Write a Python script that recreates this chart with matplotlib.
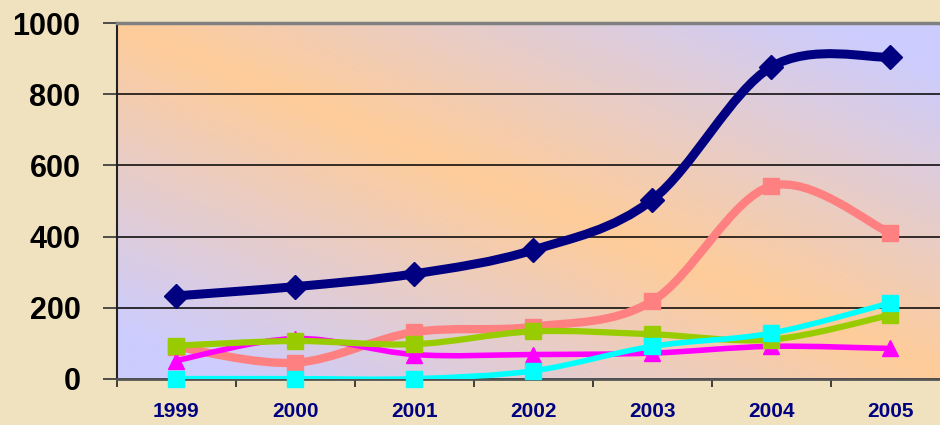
import matplotlib.pyplot as plt
import numpy as np
from matplotlib.path import Path
from matplotlib.patches import PathPatch

years = ['1999', '2000', '2001', '2002', '2003', '2004', '2005']
navy_vals = [233, 259, 295, 362, 503, 877, 905]
salmon_vals = [90, 45, 131, 146, 218, 542, 410]
magenta_vals = [51, 113, 68, 68, 72, 91, 85]
green_vals = [93, 106, 97, 133, 125, 110, 179]
cyan_vals = [0, 0, 0, 22, 91, 128, 213]
y_ticks = [0, 200, 400, 600, 800, 1000]


def smooth_path(x, y):
    # Excel-like smoothed line: cubic Bezier segments through the points
    x = np.asarray(x, float)
    y = np.asarray(y, float)
    n = len(x)
    verts = [(x[0], y[0])]
    codes = [Path.MOVETO]
    for i in range(n - 1):
        i0 = max(i - 1, 0)
        i3 = min(i + 2, n - 1)
        c1 = (x[i] + (x[i + 1] - x[i0]) / 6, y[i] + (y[i + 1] - y[i0]) / 6)
        c2 = (x[i + 1] - (x[i3] - x[i]) / 6, y[i + 1] - (y[i3] - y[i]) / 6)
        verts += [c1, c2, (x[i + 1], y[i + 1])]
        codes += [Path.CURVE4] * 3
    return Path(verts, codes)


def main():
    plt.rcParams['font.family'] = ['Liberation Sans', 'DejaVu Sans']
    fig = plt.figure(figsize=(9.4, 4.25), dpi=100, facecolor='#F1E2BF')
    ax = fig.add_axes([0.1241, 0.109, 0.886, 0.836])

    # diagonal gradient background: lavender corners, orange band
    xs = np.linspace(0, 1, 300)
    ys = np.linspace(0, 1, 150)
    gx, gy = np.meshgrid(xs, ys)
    t = np.clip(np.abs(gx + gy - 1.0) * 1.15, 0, 1)[..., None]
    orange = np.array([255, 204, 153]) / 255
    lavender = np.array([204, 204, 255]) / 255
    img = orange * (1 - t) + lavender * t
    ax.imshow(img, extent=[0, 1, 0, 1], origin='lower', transform=ax.transAxes,
              aspect='auto', zorder=0)

    xpos = np.arange(len(years))
    series = [
        (navy_vals, '#000080', 6.5, 'D', 12),
        (salmon_vals, '#FF8080', 6.0, 's', 11),
        (magenta_vals, '#FF00FF', 4.0, '^', 11),
        (green_vals, '#99CC00', 4.5, 's', 11),
        (cyan_vals, '#00FFFF', 4.0, 's', 11),
    ]
    for k, (vals, col, lw, mk, ms) in enumerate(series):
        patch = PathPatch(smooth_path(xpos, vals), facecolor='none', edgecolor=col,
                          lw=lw, capstyle='round', joinstyle='round', zorder=3 + k)
        ax.add_patch(patch)
        ax.plot(xpos, vals, linestyle='none', marker=mk, ms=ms, color=col,
                mec=col, zorder=3 + k, clip_on=False)

    ax.set_xlim(-0.5, len(years) - 0.5)
    ax.set_ylim(0, 1000)
    ax.set_yticks(y_ticks)
    ax.set_yticklabels([str(v) for v in y_ticks], fontsize=22, fontweight='bold',
                       color='black')
    ax.set_xticks(xpos)
    ax.set_xticklabels(years, fontsize=15, fontweight='bold', color='#000080')
    ax.set_xticks(np.arange(-0.5, len(years), 1.0), minor=True)
    ax.tick_params(axis='x', which='major', length=0, pad=17)
    ax.tick_params(axis='x', which='minor', length=6, width=1.2, color='#222222')
    ax.tick_params(axis='y', length=10, width=1.2, pad=16, color='#333333')

    ax.grid(axis='y', color='black', lw=1.1)
    ax.set_axisbelow(True)
    ax.spines['top'].set_color('#808080')
    ax.spines['top'].set_linewidth(2.5)
    ax.spines['left'].set_color('#222222')
    ax.spines['left'].set_linewidth(1.5)
    ax.spines['bottom'].set_color('#555555')
    ax.spines['bottom'].set_linewidth(2.0)
    ax.spines['right'].set_visible(False)

    fig.savefig('out.png', dpi=100, facecolor=fig.get_facecolor())


if __name__ == "__main__":
    main()
